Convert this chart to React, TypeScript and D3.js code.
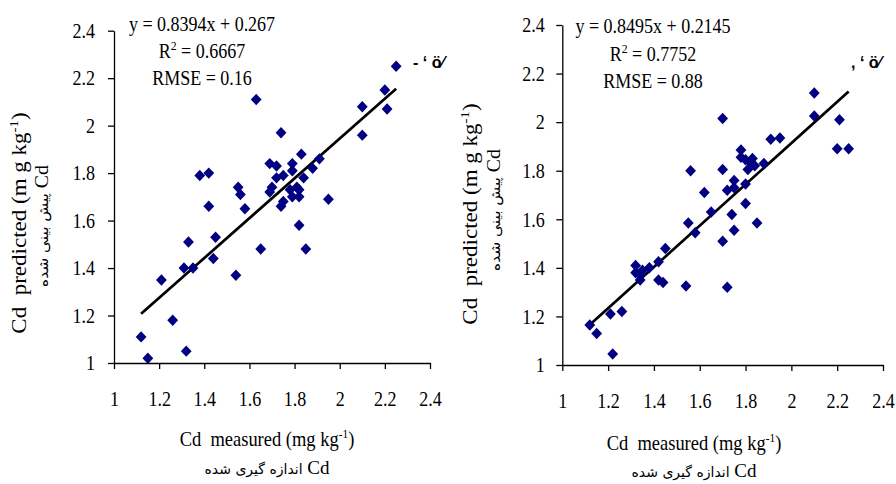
import React, { useEffect, useRef } from 'react';
import * as d3 from 'd3';

// shared axis ticks (both axes, both panels)
const axisTicks = [1, 1.2, 1.4, 1.6, 1.8, 2, 2.2, 2.4];
const axisTickLabels = ['1', '1.2', '1.4', '1.6', '1.8', '2', '2.2', '2.4'];

// left panel
const measuredA = [1.12, 1.15, 1.21, 1.26, 1.32, 1.31, 1.33, 1.35, 1.38, 1.42, 1.42, 1.44, 1.45, 1.54, 1.55, 1.56,
  1.58, 1.63, 1.65, 1.69, 1.69, 1.70, 1.72, 1.72, 1.74, 1.75, 1.74, 1.75, 1.78, 1.79, 1.79, 1.79, 1.81, 1.82,
  1.82, 1.83, 1.84, 1.82, 1.85, 1.88, 1.91, 1.95, 2.10, 2.10, 2.20, 2.21, 2.25];
const predictedA = [1.11, 1.02, 1.35, 1.18, 1.05, 1.40, 1.51, 1.40, 1.79, 1.80, 1.66, 1.44, 1.53, 1.37, 1.74, 1.71,
  1.65, 2.11, 1.48, 1.84, 1.72, 1.74, 1.83, 1.78, 1.97, 1.79, 1.66, 1.68, 1.73, 1.70, 1.84, 1.81, 1.74, 1.70,
  1.73, 1.88, 1.78, 1.58, 1.48, 1.82, 1.86, 1.69, 2.08, 1.96, 2.15, 2.07, 2.25];
const fitA = [0.8394, 0.267];
const statsA = ['y = 0.8394x + 0.267', '0.6667', '0.16'];
const strayA = '- \u2018 \u00f6\u2044';

// right panel
const measuredB = [1.12, 1.15, 1.21, 1.22, 1.26, 1.32, 1.32, 1.34, 1.35, 1.34, 1.38, 1.42, 1.42, 1.44, 1.45, 1.54,
  1.55, 1.56, 1.58, 1.62, 1.65, 1.70, 1.70, 1.70, 1.72, 1.72, 1.74, 1.75, 1.75, 1.78, 1.78, 1.80, 1.80, 1.81,
  1.82, 1.83, 1.84, 1.85, 1.88, 1.91, 1.95, 2.10, 2.10, 2.21, 2.20, 2.25, 1.75, 1.80];
const predictedB = [1.165, 1.13, 1.21, 1.045, 1.22, 1.38, 1.41, 1.35, 1.39, 1.37, 1.40, 1.425, 1.35, 1.34, 1.48, 1.325,
  1.585, 1.80, 1.545, 1.71, 1.63, 2.015, 1.805, 1.51, 1.72, 1.32, 1.62, 1.76, 1.555, 1.885, 1.855, 1.665, 1.745, 1.805,
  1.835, 1.85, 1.82, 1.585, 1.83, 1.93, 1.935, 2.12, 2.025, 2.01, 1.89, 1.89, 1.73, 1.845];
const fitB = [0.8495, 0.2145];
const statsB = ['y = 0.8495x + 0.2145', '0.7752', '0.88'];
const strayB = ', \u2018 \u00f6\u2044';

const xTitle = 'Cd  measured (mg kg';
const yTitle = 'Cd  predicted (m g kg';
const xTitleFa = 'اندازه گیری شده';
const yTitleFa = 'پیش بینی شده';

const serif = '"Liberation Serif", "Times New Roman", serif';
const squeeze = 0.9;

// diamond marker, a little taller than wide
const diamond = {
    draw(context, size) {
        const w = Math.sqrt(size) / 2;
        const h = w * 1.06;
        context.moveTo(0, -h);
        context.lineTo(w, 0);
        context.lineTo(0, h);
        context.lineTo(-w, 0);
        context.closePath();
    }
};

const panels = [
    {
        measured: measuredA, predicted: predictedA, fit: fitA, stats: statsA, stray: strayA,
        left: 114, right: 430, top: 30.7, bottom: 363, yGap: 19,
        statsX: 202, statsY: [31, 58, 85], strayX: 413, strayY: 68,
        xTitleX: 267, xTitleY: 446, xFaY: 474,
        yTitleX: 26, yTitleY: 223, yFaX: 48, yFaY: 226
    },
    {
        measured: measuredB, predicted: predictedB, fit: fitB, stats: statsB, stray: strayB,
        left: 562.3, right: 883, top: 25, bottom: 365, yGap: 17.6,
        statsX: 653, statsY: [33, 61, 88], strayX: 851, strayY: 68,
        xTitleX: 694, xTitleY: 450, xFaY: 477,
        yTitleX: 477, yTitleY: 214, yFaX: 500, yFaY: 210
    }
];

function drawPanel(svg, p) {
    const g = svg.append('g');
    const x = d3.scaleLinear().domain([1, 2.4]).range([p.left, p.right]);
    const y = d3.scaleLinear().domain([1, 2.4]).range([p.bottom, p.top]);

    // axes
    const xAxis = g.append('g')
        .attr('transform', `translate(0,${p.bottom})`)
        .call(d3.axisBottom(x).tickValues(axisTicks).tickFormat((d, i) => axisTickLabels[i])
            .tickSize(6).tickSizeOuter(0));
    const yAxis = g.append('g')
        .attr('transform', `translate(${p.left},0)`)
        .call(d3.axisLeft(y).tickValues(axisTicks).tickFormat((d, i) => axisTickLabels[i])
            .tickSize(6).tickSizeOuter(0));
    [xAxis, yAxis].forEach(a => {
        a.attr('font-family', serif).attr('font-size', 20);
        a.selectAll('path, line').attr('stroke', '#000').attr('stroke-width', 1.3);
        a.selectAll('text').attr('fill', '#000');
    });
    xAxis.selectAll('text').attr('y', p.bottom === 363 ? 43 : 43).attr('dy', 0)
        .attr('transform', `scale(${squeeze},1)`);
    yAxis.selectAll('text').attr('x', -p.yGap / squeeze).attr('dy', '0.34em')
        .attr('transform', `scale(${squeeze},1)`);

    // regression line over the measured range
    const [x0, x1] = d3.extent(p.measured);
    const [m, b] = p.fit;
    g.append('line')
        .attr('x1', x(x0)).attr('y1', y(m * x0 + b))
        .attr('x2', x(x1)).attr('y2', y(m * x1 + b))
        .attr('stroke', '#000').attr('stroke-width', 2.7);

    // points
    g.selectAll('path.pt')
        .data(d3.zip(p.measured, p.predicted))
        .join('path')
        .attr('class', 'pt')
        .attr('transform', d => `translate(${x(d[0])},${y(d[1])})`)
        .attr('d', d3.symbol(diamond, 117))
        .attr('fill', '#000080');

    // equation block
    const hText = (px, py, size) => g.append('g')
        .attr('transform', `translate(${px},${py}) scale(${squeeze},1)`)
        .append('text')
        .attr('text-anchor', 'middle')
        .attr('font-family', serif)
        .attr('font-size', size)
        .attr('fill', '#000');

    hText(p.statsX, p.statsY[0], 20).text(p.stats[0]);
    const r2 = hText(p.statsX, p.statsY[1], 20);
    r2.append('tspan').text('R');
    r2.append('tspan').attr('dy', -8).attr('font-size', 13).text('2');
    r2.append('tspan').attr('dy', 8).text(' = ' + p.stats[1]);
    hText(p.statsX, p.statsY[2], 20).text('RMSE = ' + p.stats[2]);

    // stray glyphs
    g.append('text')
        .attr('x', p.strayX).attr('y', p.strayY)
        .attr('font-family', '"Liberation Sans", Arial, sans-serif')
        .attr('font-weight', 'bold')
        .attr('font-size', 16)
        .attr('fill', '#000')
        .text(p.stray);

    // x title
    const xt = g.append('g')
        .attr('transform', `translate(${p.xTitleX},${p.xTitleY}) scale(0.88,1)`)
        .append('text')
        .attr('text-anchor', 'middle')
        .attr('font-family', serif)
        .attr('font-size', 21)
        .attr('fill', '#000')
        .attr('xml:space', 'preserve')
        .style('white-space', 'pre');
    xt.append('tspan').text(xTitle);
    xt.append('tspan').attr('dy', -8).attr('font-size', 13).text('-1');
    xt.append('tspan').attr('dy', 8).text(')');

    const xf = g.append('text')
        .attr('x', p.xTitleX).attr('y', p.xFaY)
        .attr('text-anchor', 'middle')
        .attr('fill', '#000');
    xf.append('tspan').attr('font-family', '"DejaVu Sans", sans-serif').attr('font-size', 14).text(xTitleFa);
    xf.append('tspan').attr('font-family', serif).attr('font-size', 19).text(' Cd');

    // y title, rotated and stretched along its length
    const yt = g.append('g')
        .attr('transform', `translate(${p.yTitleX},${p.yTitleY}) rotate(-90) scale(1.15,1)`)
        .append('text')
        .attr('text-anchor', 'middle')
        .attr('font-family', serif)
        .attr('font-size', 20)
        .attr('fill', '#000')
        .style('white-space', 'pre');
    yt.append('tspan').text(yTitle);
    yt.append('tspan').attr('dy', -8).attr('font-size', 13).text('-1');
    yt.append('tspan').attr('dy', 8).text(')');

    const yf = g.append('g')
        .attr('transform', `translate(${p.yFaX},${p.yFaY}) rotate(-90) scale(1.1,1)`)
        .append('text')
        .attr('text-anchor', 'middle')
        .attr('fill', '#000');
    yf.append('tspan').attr('font-family', '"DejaVu Sans", sans-serif').attr('font-size', 14).text(yTitleFa);
    yf.append('tspan').attr('font-family', serif).attr('font-size', 18).text(' Cd');
}

export default function App() {
    const svgRef = useRef(null);

    useEffect(() => {
        const svg = d3.select(svgRef.current);
        svg.selectAll('*').remove();
        panels.forEach(p => drawPanel(svg, p));
    }, []);

    return (
        <svg ref={svgRef} width={896} height={484}
             style={{position: 'absolute', left: 0, top: 0, background: '#fff'}}></svg>
    );
}
